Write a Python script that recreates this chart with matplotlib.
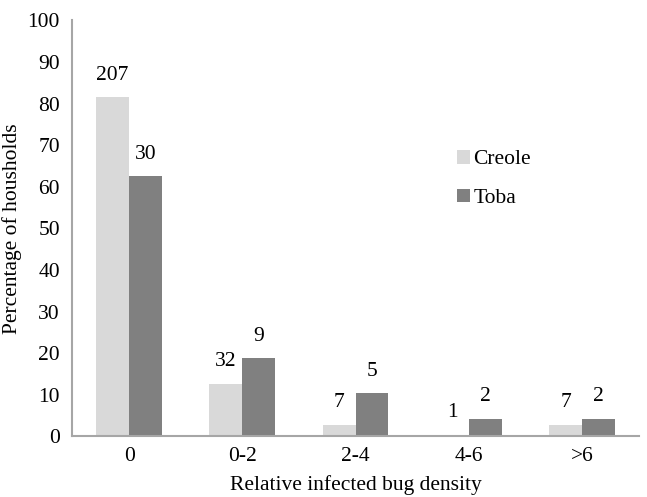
import matplotlib.pyplot as plt
import numpy as np

plt.rcParams['font.family'] = 'Liberation Serif'

categories = ['0', '0-2', '2-4', '4-6', '>6']
creole_pct = [81.5, 12.6, 2.8, 0.4, 2.8]
toba_pct = [62.5, 18.8, 10.4, 4.2, 4.2]
creole_n = [207, 32, 7, 1, 7]
toba_n = [30, 9, 5, 2, 2]

fs = 15.5

fig = plt.figure(figsize=(6.47, 4.97), dpi=100)
ax = fig.add_axes([0.112, 0.122, 0.875, 0.837])

x = np.arange(len(categories))
w = 0.29
b1 = ax.bar(x - w/2, creole_pct, w, color='#d9d9d9', label='Creole')
b2 = ax.bar(x + w/2, toba_pct, w, color='#808080', label='Toba')

for bars, counts in ((b1, creole_n), (b2, toba_n)):
    for bar, n in zip(bars, counts):
        ax.text(bar.get_x() + bar.get_width()/2, bar.get_height() + 3, str(n),
                ha='center', va='bottom', fontsize=fs)

ax.set_xlim(-0.5, len(categories) - 0.5)
ax.set_ylim(0, 100)
ax.set_yticks(range(0, 101, 10))
ax.set_xticks(x)
ax.set_xticklabels(categories)
ax.tick_params(axis='both', length=0, labelsize=fs, pad=8)
ax.tick_params(axis='y', pad=9)
for s in ('top', 'right'):
    ax.spines[s].set_visible(False)
for s in ('left', 'bottom'):
    ax.spines[s].set_color('#a6a6a6')
    ax.spines[s].set_linewidth(1.5)

ax.set_xlabel('Relative infected bug density', fontsize=fs, labelpad=6)
ax.set_ylabel('Percentage of housholds', fontsize=fs, labelpad=4)

ax.legend(loc='upper left', bbox_to_anchor=(0.645, 0.735), frameon=False,
          fontsize=fs, handlelength=0.6, handleheight=0.6, handletextpad=0.15,
          labelspacing=0.9)

fig.savefig('out.png')
